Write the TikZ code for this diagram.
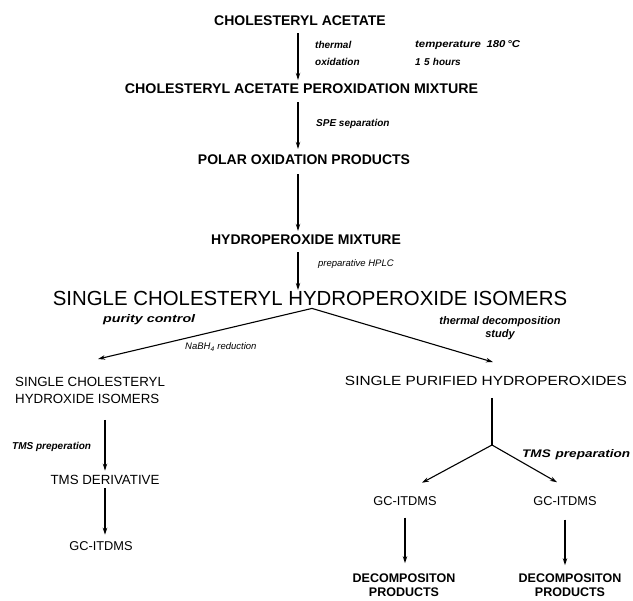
\documentclass[tikz,border=0pt]{standalone}
\usepackage{fontspec}
\setmainfont{Liberation Sans}
\usetikzlibrary{arrows.meta}
\newcommand\fitw[2]{\resizebox{#1}{\height}{#2}}
\begin{document}
\begin{tikzpicture}[x=1pt,y=-1pt,
  hd/.style={font=\bfseries\fontsize{14}{16}\selectfont, inner sep=0pt},
  big/.style={font=\fontsize{20.4}{24}\selectfont, inner sep=0pt},
  reg/.style={font=\fontsize{13.3}{17}\selectfont, inner sep=0pt},
  gc/.style={font=\fontsize{12.8}{14}\selectfont, inner sep=0pt},
  dec/.style={font=\bfseries\fontsize{12.5}{14.5}\selectfont, inner sep=0pt, align=center},
  note/.style={font=\bfseries\itshape\fontsize{10}{11}\selectfont, inner sep=0pt, anchor=west},
  snote/.style={font=\itshape\fontsize{9.5}{10}\selectfont, inner sep=0pt, anchor=west},
  bnote/.style={font=\bfseries\itshape\fontsize{11}{13}\selectfont, inner sep=0pt},
  arr/.style={-{Stealth[length=7pt,width=4.5pt]}, line width=1.1pt},
  ln/.style={line width=1.1pt}
]
\clip (0,0) rectangle (633,601);
\fill[white] (0,0) rectangle (633,601);
\coordinate (axis) at (298,0);
% main column
\node[hd] (ca) at (300,21) {CHOLESTERYL ACETATE};
\node[hd] (pm) at (301.5,89) {\fitw{353pt}{CHOLESTERYL ACETATE PEROXIDATION MIXTURE}};
\node[hd] (po) at (304,160) {POLAR OXIDATION PRODUCTS};
\node[hd] (hm) at (306,240) {HYDROPEROXIDE MIXTURE};
\node[big] (sc) at (310,298) {SINGLE CHOLESTERYL HYDROPEROXIDE ISOMERS};
\draw[arr, shorten <=7pt, shorten >=4pt] (ca.south -| axis) -- (pm.north -| axis);
\draw[arr, shorten <=8pt, shorten >=6pt] (pm.south -| axis) -- (po.north -| axis);
\draw[arr, shorten <=9pt, shorten >=4pt] (po.south -| axis) -- (hm.north -| axis);
\draw[arr, shorten <=7pt, shorten >=0.7pt] (hm.south -| axis) -- (sc.north -| axis);
% labels top
\node[note] (l1) at (315,45) {thermal};
\node[note] (l2) at (315,62) {oxidation};
\node[note] (l3) at (415,45) {\fitw{105pt}{temperature\hspace{5pt}180\,°C}};
\node[note] (l4) at (415,62) {1\,\,5\,\,hours};
\node[note] (l5) at (316,124) {SPE separation};
\node[snote] (l6) at (318,264) {preparative HPLC};
% split
\coordinate (ap) at ([shift={(2,3)}]sc.south);
\node[bnote, anchor=west] (pc) at (103,320) {\fitw{92pt}{purity control}};
\node[snote] (nb) at (185,347) {NaBH\textsubscript{4} reduction};
\node[bnote, align=center] (td) at (500,328) {thermal decomposition\\study};
% left branch
\node[reg, anchor=north west, align=left] (lc) at (15,377) {SINGLE CHOLESTERYL\\HYDROXIDE ISOMERS};
\node[reg] (tms) at (105,480) {TMS DERIVATIVE};
\node[gc] (gc1) at (101,546) {GC-ITDMS};
\node[note] (tp1) at (12,447) {TMS preperation};
\draw[arr] (ap) -- ([shift={(8,-18)}]lc.north);
\draw[arr, shorten <=16pt, shorten >=4.5pt] (lc.south -| tms.north) -- (tms.north);
\draw[arr, shorten <=3.5pt, shorten >=6.5pt] (tms.south) -- (tms.south |- gc1.north);
% right branch
\node[reg] (sp) at (486,381) {\fitw{282pt}{SINGLE PURIFIED HYDROPEROXIDES}};
\draw[arr] (ap) -- ([shift={(7,-14)}]sp.north);
\coordinate (ap2) at (492,445);
\draw[ln] ([shift={(6,12)}]sp.south) -- (ap2);
\node[gc] (gcl) at (405,501) {GC-ITDMS};
\node[gc] (gcr) at (565,501) {GC-ITDMS};
\draw[arr] (ap2) -- ([shift={(17,-13.5)}]gcl.north);
\draw[arr] (ap2) -- ([shift={(-8,-14)}]gcr.north);
\node[bnote, anchor=west] (tp2) at (522,455) {\fitw{108pt}{TMS\hspace{4pt}preparation}};
\node[dec] (dl) at (404,585) {DECOMPOSITON\\PRODUCTS};
\node[dec] (dr) at (570,585) {DECOMPOSITON\\PRODUCTS};
\draw[arr, shorten <=12pt, shorten >=10pt] (gcl.south) -- (gcl.south |- dl.north);
\draw[arr, shorten <=14pt, shorten >=8pt] (gcr.south) -- (gcr.south |- dr.north);
\end{tikzpicture}
\end{document}
